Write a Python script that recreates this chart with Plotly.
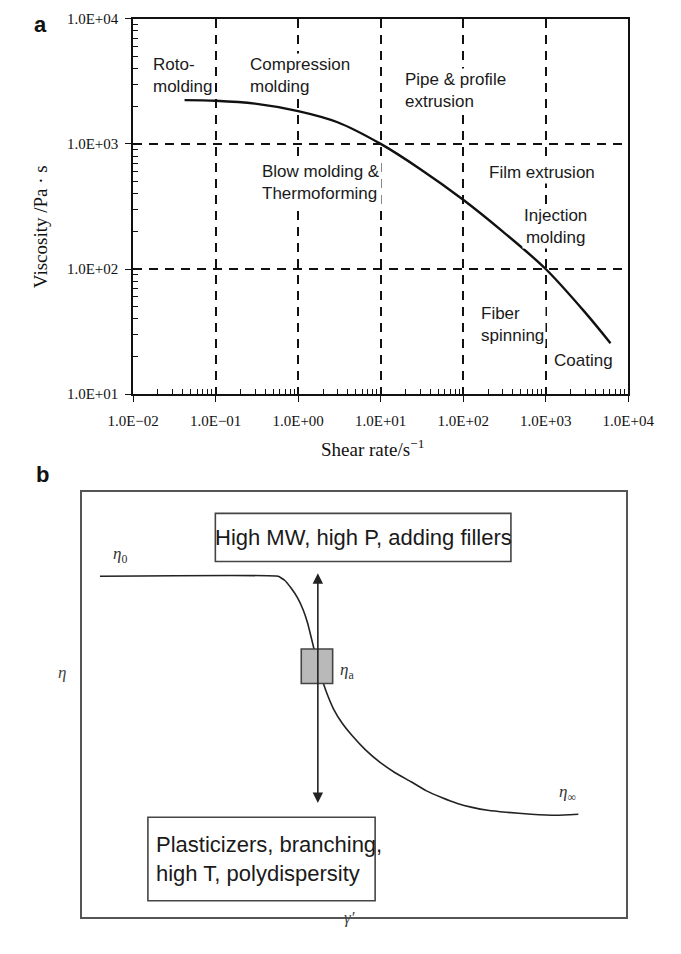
import plotly.graph_objects as go

# ---------------- Panel a: processing window on a viscosity curve ----------------
shear_rate = [0.042, 0.1, 0.3, 1.0, 3.0, 10.0, 30.0, 100.0, 300.0, 1000.0, 3000.0, 6100.0]
viscosity = [2240, 2215, 2100, 1830, 1490, 1000, 631, 358, 200, 100, 45, 25.5]

x_tick_vals = [1e-2, 1e-1, 1e0, 1e1, 1e2, 1e3, 1e4]
x_tick_text = ["1.0E\u221202", "1.0E\u221201", "1.0E+00", "1.0E+01", "1.0E+02", "1.0E+03", "1.0E+04"]
y_tick_vals = [1e1, 1e2, 1e3, 1e4]
y_tick_text = ["1.0E+01", "1.0E+02", "1.0E+03", "1.0E+04"]

# process labels: text, log10(shear rate), log10(viscosity), anchor
process_text = ["Roto-<br>molding", "Compression<br>molding", "Pipe & profile<br>extrusion",
                "Blow molding &<br>Thermoforming", "Film extrusion", "Injection<br>molding",
                "Fiber<br>spinning", "Coating"]
process_logx = [-1.787, -0.612, 1.269, -0.466, 2.288, 3.116, 2.187, 3.071]
process_logy = [3.545, 3.545, 3.427, 2.688, 2.774, 2.342, 1.556, 1.265]
process_anchor = ["left", "left", "left", "left", "left", "center", "left", "left"]

# ---------------- Panel b: schematic flow curve (arbitrary units 0-100) ----------------
gamma_b = [3.23, 35.99, 37.18, 38.37, 39.56, 40.58, 41.43, 42.28, 43.29, 44.31, 45.16,
           46.18, 47.71, 49.58, 51.95, 54.67, 57.56, 60.44, 63.16, 66.04, 68.93, 71.65,
           74.53, 77.93, 82.51, 87.27, 91.17]
eta_b = [80.14, 80.14, 79.21, 77.37, 75.06, 72.29, 69.05, 64.67, 59.35, 54.97, 51.96,
         48.96, 45.73, 42.73, 39.49, 36.49, 33.95, 31.87, 29.79, 28.18, 26.79, 25.87,
         25.17, 24.71, 24.25, 24.02, 24.25]

SERIF = "Liberation Serif, Times New Roman, serif"
SANS = "Liberation Sans, Arial, sans-serif"


def minor_vals(lo, hi):
    vals = []
    for e in range(lo, hi):
        for m in range(2, 10):
            vals.append(m * 10.0 ** e)
    return vals


fig = go.Figure()

fig.add_trace(go.Scatter(
    x=shear_rate, y=viscosity, mode="lines",
    line=dict(color="#111111", width=2.4, shape="spline", smoothing=0.9),
    xaxis="x", yaxis="y", showlegend=False, hoverinfo="skip"))

fig.add_trace(go.Scatter(
    x=gamma_b, y=eta_b, mode="lines",
    line=dict(color="#222222", width=1.6, shape="spline", smoothing=0.3),
    xaxis="x2", yaxis="y2", showlegend=False, hoverinfo="skip"))

axis_a_common = dict(
    type="log", showline=True, linecolor="#111111", linewidth=1.6, mirror=True,
    ticks="outside", ticklen=6, tickwidth=1.4, tickcolor="#111111",
    showgrid=True, gridcolor="#111111", gridwidth=1.5, griddash="9px,7px",
    zeroline=False, tickmode="array",
    tickfont=dict(family=SERIF, size=15, color="#111111"),
)

fig.update_layout(
    width=681, height=954,
    margin=dict(l=0, r=0, t=0, b=0),
    paper_bgcolor="white", plot_bgcolor="white",
    xaxis=dict(
        axis_a_common, domain=[116 / 681, 652 / 681], anchor="y",
        range=[-2, 4], tickvals=x_tick_vals, ticktext=x_tick_text,
        ticklabelstandoff=6,
        minor=dict(tickmode="array", tickvals=minor_vals(-2, 4), ticks="inside",
                   ticklen=5, tickwidth=1.2, tickcolor="#111111", showgrid=False),
    ),
    yaxis=dict(
        axis_a_common, domain=[1 - 392.7 / 954, 1 - 11 / 954], anchor="x",
        range=[1, 4], tickvals=y_tick_vals, ticktext=y_tick_text,
        ticklabelstandoff=4,
        minor=dict(tickmode="array", tickvals=minor_vals(1, 4), ticks="inside",
                   ticklen=5, tickwidth=1.2, tickcolor="#111111", showgrid=False),
    ),
    xaxis2=dict(
        domain=[61 / 681, 650 / 681], anchor="y2", range=[0, 100],
        showline=True, mirror=True, linecolor="#555555", linewidth=2,
        showgrid=False, zeroline=False, showticklabels=False, ticks="",
    ),
    yaxis2=dict(
        domain=[1 - 925 / 954, 1 - 492 / 954], anchor="x2", range=[0, 100],
        showline=True, mirror=True, linecolor="#555555", linewidth=2,
        showgrid=False, zeroline=False, showticklabels=False, ticks="",
    ),
)

annotations = []

# panel letters
annotations.append(dict(text="<b>a</b>", x=7 / 681, y=1 - 17 / 954, xref="paper", yref="paper",
                        xanchor="left", yanchor="middle", showarrow=False,
                        font=dict(family=SANS, size=22, color="#111111")))
annotations.append(dict(text="<b>b</b>", x=9 / 681, y=1 - 474 / 954, xref="paper", yref="paper",
                        xanchor="left", yanchor="middle", showarrow=False,
                        font=dict(family=SANS, size=22, color="#111111")))

# panel a axis titles
annotations.append(dict(text="Viscosity /Pa \u00b7 s", x=15 / 681, y=1 - 222 / 954,
                        xref="paper", yref="paper", textangle=-90, showarrow=False,
                        xanchor="center", yanchor="middle",
                        font=dict(family=SERIF, size=19, color="#111111")))
annotations.append(dict(text="Shear rate/s<sup>\u22121</sup>", x=375 / 681, y=1 - 447 / 954,
                        xref="paper", yref="paper", showarrow=False,
                        xanchor="center", yanchor="middle",
                        font=dict(family=SERIF, size=19, color="#111111")))

# process labels (white backing hides the grid behind the text)
for t, lx, ly, anc in zip(process_text, process_logx, process_logy, process_anchor):
    annotations.append(dict(text=t, x=lx, y=ly, xref="x", yref="y", showarrow=False,
                            xanchor=anc, yanchor="middle", align=anc,
                            bgcolor="white", borderpad=1,
                            font=dict(family=SANS, size=17, color="#1a1a1a")))

# panel b: effect arrow (both directions)
annotations.append(dict(x=43.29, y=80.83, ax=43.29, ay=26.56, xref="x2", yref="y2",
                        axref="x2", ayref="y2", text="", showarrow=True,
                        arrowhead=2, arrowsize=1.3, arrowwidth=1.6, arrowcolor="#222222",
                        arrowside="end+start", standoff=0, startstandoff=0))

# panel b: labels
annotations.append(dict(text="<i>\u03b7</i><sub>0</sub>", x=6.96, y=85.22, xref="x2", yref="y2",
                        showarrow=False, font=dict(family=SERIF, size=17, color="#333333")))
annotations.append(dict(text="<i>\u03b7</i><sub>a</sub>", x=47.03, y=57.97, xref="x2", yref="y2",
                        xanchor="left", showarrow=False,
                        font=dict(family=SERIF, size=17, color="#333333")))
annotations.append(dict(text="<i>\u03b7</i><sub>\u221e</sub>", x=89.13, y=29.33, xref="x2", yref="y2",
                        showarrow=False, font=dict(family=SERIF, size=17, color="#333333")))
annotations.append(dict(text="<i>\u03b7</i>", x=32 / 681, y=1 - 688 / 954, xref="paper", yref="paper",
                        showarrow=False, font=dict(family=SERIF, size=17, color="#444444")))
annotations.append(dict(text="<i>\u03b3\u2032</i>", x=350 / 681, y=1 - 937 / 954, xref="paper",
                        yref="paper", showarrow=False,
                        font=dict(family=SERIF, size=17, color="#444444")))

# panel b: text boxes
annotations.append(dict(text="High MW, high P, adding fillers", x=51.61, y=89.26,
                        xref="x2", yref="y2", showarrow=False, xanchor="center",
                        font=dict(family=SANS, size=22, color="#1a1a1a")))
annotations.append(dict(text="Plasticizers, branching,<br>high T, polydispersity",
                        x=13.24, y=13.63, xref="x2", yref="y2", showarrow=False,
                        xanchor="left", align="left",
                        font=dict(family=SANS, size=22, color="#1a1a1a")))

fig.update_layout(annotations=annotations)

shapes = [
    dict(type="rect", xref="x2", yref="y2", x0=24.45, x1=78.78, y0=83.60, y1=94.92,
         line=dict(color="#444444", width=1.6), fillcolor="white", layer="above"),
    dict(type="rect", xref="x2", yref="y2", x0=12.05, x1=53.82, y0=3.93, y1=23.56,
         line=dict(color="#444444", width=1.6), fillcolor="white", layer="above"),
    dict(type="rect", xref="x2", yref="y2", x0=40.24, x1=46.01, y0=54.97, y1=63.05,
         line=dict(color="#444444", width=1.6), fillcolor="#b9b9b9", layer="above"),
]
fig.update_layout(shapes=shapes)

fig.write_html("out.html")
